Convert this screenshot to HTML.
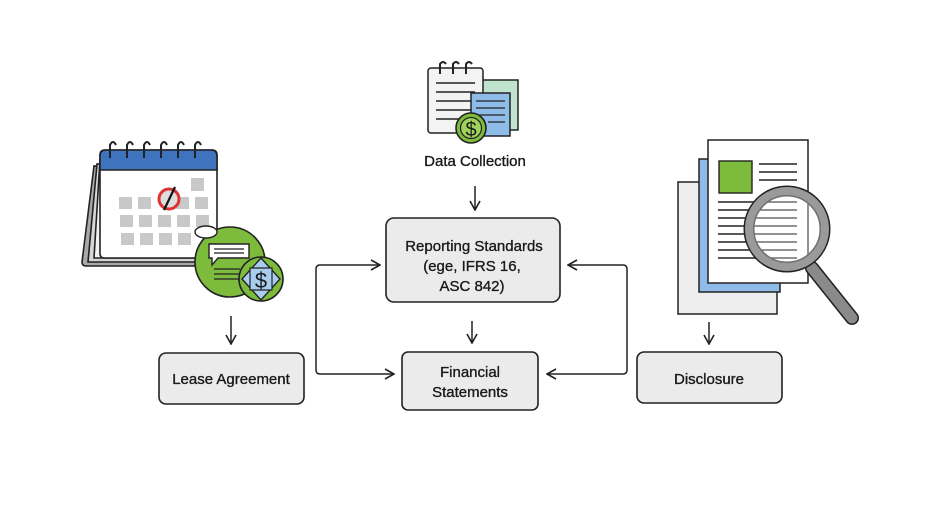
<!DOCTYPE html>
<html><head><meta charset="utf-8"><style>
html,body{margin:0;padding:0;background:#fff;}
svg{display:block;}
text{font-family:"Liberation Sans",sans-serif;fill:#1a1a1a;stroke:#1a1a1a;stroke-width:0.35;}
</style></head><body>
<svg width="940" height="528" viewBox="0 0 940 528" xmlns="http://www.w3.org/2000/svg">
<rect width="940" height="528" fill="#fff"/>
<defs>
<marker id="ah" viewBox="0 0 12 12" refX="11" refY="6" markerWidth="12" markerHeight="12" markerUnits="userSpaceOnUse" orient="auto-start-reverse">
<path d="M2,1 L11,6 L2,11" fill="none" stroke="#222" stroke-width="1.6"/>
</marker>
</defs>

<!-- Calendar -->
<g stroke="#222" stroke-width="1.6">
<path d="M94,166 L82,262 Q82,266 86,266 L200,266 L210,170 Z" fill="#a9a9a9"/>
<path d="M97,164 L88,262 L205,262 L213,166 Z" fill="#d6d6d6"/>
<path d="M100,160 L94,258 L212,258 L216,160 Z" fill="#f2f2f2"/>
<rect x="100" y="150" width="117" height="108" rx="4" fill="#fff"/>
<path d="M100,170 L100,156 Q100,150 106,150 L211,150 Q217,150 217,156 L217,170 Z" fill="#3f73bd"/>
</g>
<g fill="none" stroke="#222" stroke-width="2">
<path d="M110,158 L110,145 Q113,139 116,145"/><path d="M127,158 L127,145 Q130,139 133,145"/>
<path d="M144,158 L144,145 Q147,139 150,145"/><path d="M161,158 L161,145 Q164,139 167,145"/>
<path d="M178,158 L178,145 Q181,139 184,145"/><path d="M195,158 L195,145 Q198,139 201,145"/>
</g>
<g fill="#c8c8c8">
<rect x="191" y="178" width="13" height="13"/>
<rect x="119" y="197" width="13" height="12"/><rect x="138" y="197" width="13" height="12"/>
<rect x="176" y="197" width="13" height="12"/><rect x="195" y="197" width="13" height="12"/>
<rect x="120" y="215" width="13" height="12"/><rect x="139" y="215" width="13" height="12"/><rect x="158" y="215" width="13" height="12"/><rect x="177" y="215" width="13" height="12"/><rect x="196" y="215" width="13" height="12"/>
<rect x="121" y="233" width="13" height="12"/><rect x="140" y="233" width="13" height="12"/><rect x="159" y="233" width="13" height="12"/><rect x="178" y="233" width="13" height="12"/>
</g>
<circle cx="169" cy="199" r="10" fill="#ddd" stroke="#d33" stroke-width="3"/>
<line x1="164" y1="210" x2="175" y2="187" stroke="#111" stroke-width="2.2"/>
<!-- green circles -->
<circle cx="230" cy="262" r="35" fill="#7dbb3c" stroke="#222" stroke-width="1.6"/>
<ellipse cx="206" cy="232" rx="11" ry="6" fill="#fff" stroke="#222" stroke-width="1.4"/>
<path d="M209,244 L249,244 L249,258 L218,258 L212,265 L212,258 L209,258 Z" fill="#fff" stroke="#222" stroke-width="1.4"/>
<g stroke="#222" stroke-width="1.3"><line x1="214" y1="249" x2="244" y2="249"/><line x1="214" y1="253" x2="244" y2="253"/><line x1="214" y1="269" x2="240" y2="269"/><line x1="214" y1="274" x2="240" y2="274"/><line x1="214" y1="279" x2="240" y2="279"/></g>
<circle cx="261" cy="279" r="22" fill="#7dbb3c" stroke="#222" stroke-width="1.6"/>
<path d="M261,258 L280,279 L261,300 L242,279 Z" fill="#a8cdef" stroke="#222" stroke-width="1.4"/>
<path d="M250,268 L272,268 L272,290 L250,290 Z" fill="#a8cdef" stroke="#222" stroke-width="1.2"/>
<text x="261" y="288" font-size="22" text-anchor="middle" fill="#1b2a55" style="stroke:none">$</text>

<!-- Data collection icon -->
<rect x="470" y="80" width="48" height="50" fill="#bfe3cc" stroke="#222" stroke-width="1.5"/>
<rect x="428" y="68" width="55" height="65" rx="3" fill="#f3f3f3" stroke="#222" stroke-width="1.5"/>
<g fill="none" stroke="#222" stroke-width="2"><path d="M440,74 V64 Q443,60 446,64"/><path d="M453,74 V64 Q456,60 459,64"/><path d="M466,74 V64 Q469,60 472,64"/></g>
<g stroke="#222" stroke-width="1.4"><line x1="436" y1="83" x2="475" y2="83"/><line x1="436" y1="92" x2="475" y2="92"/><line x1="436" y1="101" x2="475" y2="101"/><line x1="436" y1="110" x2="475" y2="110"/><line x1="436" y1="119" x2="460" y2="119"/></g>
<rect x="471" y="93" width="39" height="43" fill="#8fbbe8" stroke="#222" stroke-width="1.5"/>
<g stroke="#222" stroke-width="1.2"><line x1="476" y1="101" x2="505" y2="101"/><line x1="476" y1="108" x2="505" y2="108"/><line x1="476" y1="115" x2="505" y2="115"/><line x1="488" y1="122" x2="505" y2="122"/></g>
<circle cx="471" cy="128" r="15" fill="#7dbb3c" stroke="#222" stroke-width="1.6"/>
<circle cx="471" cy="128" r="10.5" fill="#9fd25c" stroke="#222" stroke-width="1.2"/>
<text x="471" y="136" font-size="20" text-anchor="middle" style="stroke:none">$</text>
<text x="475" y="166" font-size="15" text-anchor="middle">Data Collection</text>

<!-- Disclosure icon -->
<rect x="678" y="182" width="99" height="132" fill="#eeeeee" stroke="#222" stroke-width="1.5"/>
<rect x="699" y="159" width="81" height="133" fill="#8fbbe8" stroke="#222" stroke-width="1.5"/>
<rect x="708" y="140" width="100" height="143" fill="#fff" stroke="#222" stroke-width="1.5"/>
<rect x="719" y="161" width="33" height="32" fill="#7dbb3c" stroke="#222" stroke-width="1.4"/>
<g stroke="#222" stroke-width="1.4">
<line x1="759" y1="164" x2="797" y2="164"/><line x1="759" y1="172" x2="797" y2="172"/><line x1="759" y1="180" x2="797" y2="180"/>
<line x1="718" y1="202" x2="797" y2="202"/><line x1="718" y1="210" x2="797" y2="210"/><line x1="718" y1="218" x2="797" y2="218"/><line x1="718" y1="226" x2="797" y2="226"/><line x1="718" y1="234" x2="797" y2="234"/><line x1="718" y1="242" x2="797" y2="242"/><line x1="718" y1="250" x2="797" y2="250"/><line x1="718" y1="258" x2="797" y2="258"/>
</g>
<line x1="812" y1="268" x2="852" y2="318" stroke="#222" stroke-width="14" stroke-linecap="round"/>
<line x1="812" y1="268" x2="852" y2="318" stroke="#8a8a8a" stroke-width="11" stroke-linecap="round"/>
<circle cx="787" cy="229" r="38" fill="none" stroke="#222" stroke-width="11"/>
<circle cx="787" cy="229" r="38" fill="rgba(255,255,255,0.35)" stroke="#9a9a9a" stroke-width="8"/>

<!-- Boxes -->
<g fill="#ebebeb" stroke="#222" stroke-width="1.6">
<rect x="386" y="218" width="174" height="84" rx="8"/>
<rect x="402" y="352" width="136" height="58" rx="6"/>
<rect x="159" y="353" width="145" height="51" rx="7"/>
<rect x="637" y="352" width="145" height="51" rx="7"/>
</g>
<g font-size="15" text-anchor="middle">
<text x="474" y="251">Reporting Standards</text>
<text x="472" y="271">(ege, IFRS 16,</text>
<text x="472" y="291">ASC 842)</text>
<text x="470" y="377">Financial</text>
<text x="470" y="397">Statements</text>
<text x="231" y="384">Lease Agreement</text>
<text x="709" y="384">Disclosure</text>
</g>

<!-- Connectors -->
<g fill="none" stroke="#222" stroke-width="1.5">
<line x1="475" y1="186" x2="475" y2="210" marker-end="url(#ah)"/>
<line x1="472" y1="321" x2="472" y2="343" marker-end="url(#ah)"/>
<line x1="231" y1="316" x2="231" y2="344" marker-end="url(#ah)"/>
<line x1="709" y1="322" x2="709" y2="344" marker-end="url(#ah)"/>
<path d="M380,265 L320,265 Q316,265 316,269 L316,370 Q316,374 320,374 L394,374" marker-start="url(#ah)" marker-end="url(#ah)"/>
<path d="M568,265 L623,265 Q627,265 627,269 L627,370 Q627,374 623,374 L547,374" marker-start="url(#ah)" marker-end="url(#ah)"/>
</g>
</svg>
</body></html>
